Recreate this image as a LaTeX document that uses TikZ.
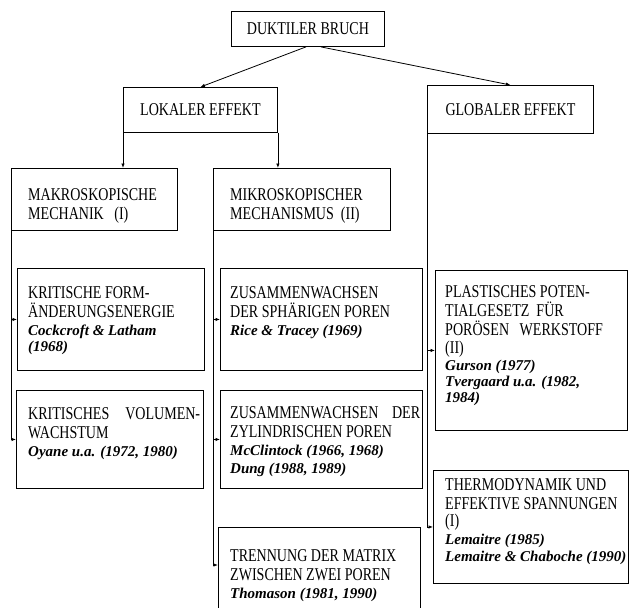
\documentclass[tikz,border=0pt]{standalone}
\usepackage{fontspec}
\setmainfont{Liberation Serif}
\newfontfamily\capsfont{Liberation Serif}[FakeStretch=0.78]
\usetikzlibrary{arrows.meta,calc}
\newcommand\lit[1]{{\rmfamily\fontsize{15}{16.5}\selectfont\bfseries\itshape #1}}
\begin{document}
\begin{tikzpicture}[x=1pt,y=-1pt,
  box/.style={draw, line width=0.9pt, anchor=north west, inner sep=0pt},
  caps/.style={font=\capsfont\fontsize{18}{19}\selectfont},
  ctr/.style={box, caps},
  txt/.style={caps, anchor=north west, align=left, inner sep=0pt},
  arr/.style={line width=0.8pt, -{Latex[length=4.5pt,width=3.5pt]}},
]
\clip (0,0) rectangle (641,608);
\fill[white] (0,0) rectangle (641,608);

% boxes
\node[ctr, minimum width=153pt, minimum height=35pt] (db) at (231,11) {DUKTILER BRUCH};
\node[ctr, minimum width=154pt, minimum height=45pt] (lok) at (123,87) {LOKALER EFFEKT};
\node[ctr, minimum width=166pt, minimum height=48pt] (glob) at (427,85) {GLOBALER EFFEKT};
\node[box, minimum width=166pt, minimum height=62pt] (makro) at (11,168) {};
\node[box, minimum width=177pt, minimum height=62pt] (mikro) at (213,168) {};
\node[box, minimum width=187pt, minimum height=102pt] (kf) at (17,268) {};
\node[box, minimum width=187pt, minimum height=98pt] (kv) at (16,390) {};
\node[box, minimum width=202pt, minimum height=102pt] (sph) at (220,268) {};
\node[box, minimum width=202pt, minimum height=98pt] (zyl) at (220,390) {};
\node[box, minimum width=202pt, minimum height=90pt] (trenn) at (218,527) {};
\node[box, minimum width=192pt, minimum height=160pt] (plast) at (435,270) {};
\node[box, minimum width=195pt, minimum height=113pt] (thermo) at (433,470) {};

% texts (y = first baseline - 12)
\node[txt] (tmakro) at (28,188) {MAKROSKOPISCHE\\MECHANIK\ \ \ (I)};
\node[txt] (tmikro) at (230,188) {MIKROSKOPISCHER\\MECHANISMUS\ \ (II)};
\node[txt] (tkf) at (28,286) {KRITISCHE FORM-\\ÄNDERUNGSENERGIE\\[-1pt]\lit{Cockcroft \& Latham}\\[-3pt]\lit{(1968)}};
\node[txt] (tkv) at (28,407) {\hbox to 172pt{KRITISCHES\hfill VOLUMEN-}\\WACHSTUM\\[-1pt]\lit{Oyane u.a. (1972, 1980)}};
\node[txt] (tsph) at (230,286) {ZUSAMMENWACHSEN\\DER SPHÄRIGEN POREN\\[-1pt]\lit{Rice \& Tracey (1969)}};
\node[txt] (tzyl) at (230,406) {\hbox to 190pt{ZUSAMMENWACHSEN\hfill DER}\\ZYLINDRISCHEN POREN\\[-1pt]\lit{McClintock (1966, 1968)}\\[-1pt]\lit{Dung (1988, 1989)}};
\node[txt] (ttrenn) at (230,549) {TRENNUNG DER MATRIX\\ZWISCHEN ZWEI POREN\\[-1pt]\lit{Thomason (1981, 1990)}};
\node[txt] (tplast) at (445,285) {PLASTISCHES POTEN-\\TIALGESETZ\ \ FÜR\\PORÖSEN\ \ \ WERKSTOFF\\[-1pt](II)\\[-2pt]\lit{Gurson (1977)}\\[-3pt]\lit{Tvergaard u.a. (1982,}\\[-3pt]\lit{1984)}};
\node[txt] (tthermo) at (445,478) {THERMODYNAMIK UND\\EFFEKTIVE SPANNUNGEN\\[-2pt](I)\\[-1pt]\lit{Lemaitre (1985)}\\[-2pt]\lit{Lemaitre \& Chaboche (1990)}};

% connectors
\draw[arr] ([xshift=-2pt]db.south) -- (lok.north);
\draw[arr] ([xshift=13pt]db.south) -- (glob.north);
\draw[arr] (lok.south west) -- (lok.south west |- makro.north);
\draw[arr] (lok.south east) -- (lok.south east |- mikro.north);
\draw[arr] (makro.south west) |- (kf.west);
\draw[arr] (makro.south west) |- (kv.west);
\coordinate (trennin) at ($(trenn.north west)+(0,38)$);
\draw[arr] (mikro.south west) |- (sph.west);
\draw[arr] (mikro.south west) |- (zyl.west);
\draw[arr] (mikro.south west) |- (trennin);
\draw[arr] (glob.south west) |- (plast.west);
\draw[arr] (glob.south west) |- (thermo.west);
\end{tikzpicture}
\end{document}
